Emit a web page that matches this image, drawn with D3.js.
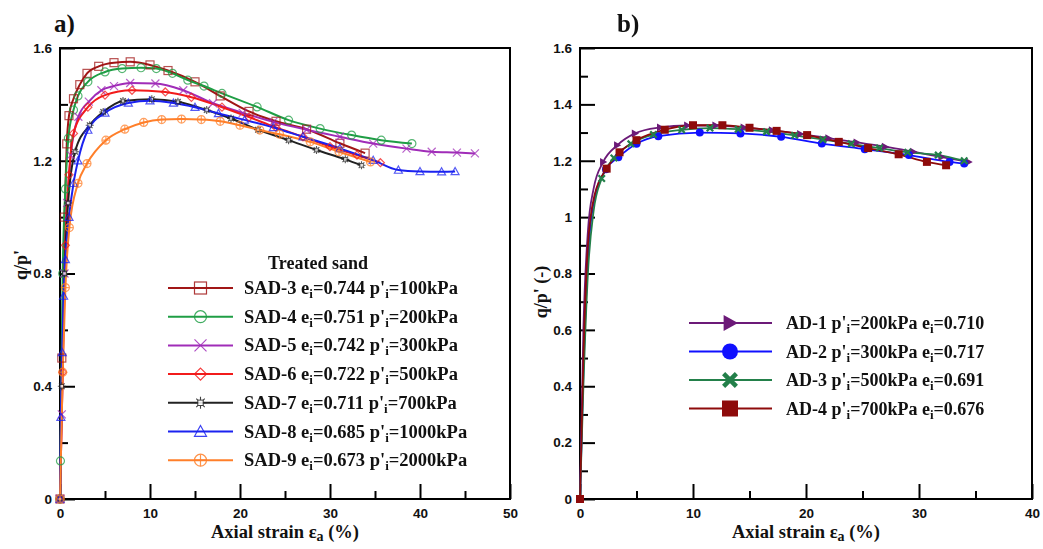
<!DOCTYPE html>
<html>
<head>
<meta charset="utf-8">
<script src="https://cdn.jsdelivr.net/npm/d3@7"></script>
<style>
  body { margin: 0; background: #fff; }
  svg { display: block; }
</style>
</head>
<body>
<svg id="chart" width="1043" height="549"></svg>
<script>
// --- Data : panel a) treated sand ---
const sadNames = ["SAD-3", "SAD-4", "SAD-5", "SAD-6", "SAD-7", "SAD-8", "SAD-9"];
const sadVoid = ["0.744", "0.751", "0.742", "0.722", "0.711", "0.685", "0.673"];
const sadPressure = ["100kPa", "200kPa", "300kPa", "500kPa", "700kPa", "1000kPa", "2000kPa"];

const sad3 = [[0,0],[0.2,0.5],[0.5,1.0],[0.75,1.26],[1,1.36],[1.5,1.42],[2.2,1.47],[3,1.51],[4.3,1.535],[6,1.548],[7.8,1.551],[10,1.54],[12,1.52],[15,1.48],[17.8,1.43],[21,1.375],[24,1.34],[27.4,1.312],[31.1,1.262],[33.9,1.227]];
const sad4 = [[0,0],[0.05,0.135],[0.3,0.8],[0.6,1.1],[0.93,1.28],[1.5,1.38],[2,1.43],[3.1,1.48],[5,1.515],[6.9,1.527],[9,1.53],[10.7,1.527],[12.5,1.51],[14.2,1.486],[16,1.465],[18,1.439],[21.9,1.391],[25.4,1.344],[28.9,1.314],[32.4,1.291],[35.7,1.273],[39.1,1.261]];
const sad5 = [[0,0],[0.2,0.3],[0.5,0.8],[0.8,1.05],[1.2,1.22],[2.04,1.356],[3.2,1.41],[4.6,1.45],[6,1.465],[7.8,1.476],[10.6,1.474],[13.7,1.45],[17,1.404],[20.3,1.37],[23.7,1.338],[27.4,1.31],[31.1,1.285],[34.8,1.261],[38.5,1.243],[41.3,1.232],[44.1,1.229],[46.1,1.226]];
const sad6 = [[0,0],[0.3,0.45],[0.6,0.9],[1,1.15],[1.5,1.297],[3.1,1.39],[5,1.433],[8,1.45],[11.7,1.444],[14.6,1.425],[18,1.39],[21,1.355],[24,1.318],[27,1.285],[30,1.25],[33,1.22],[35.6,1.193]];
const sad7 = [[0,0],[0.2,0.4],[0.5,0.8],[0.9,1.05],[1.67,1.232],[3.3,1.326],[4.8,1.373],[7,1.412],[10.2,1.418],[13.1,1.409],[16.3,1.38],[19,1.35],[22,1.31],[25.4,1.273],[28.5,1.238],[31.7,1.205],[33.5,1.184]];
const sad8 = [[0,0],[0.1,0.29],[0.25,0.52],[0.4,0.72],[0.6,0.85],[1,1.0],[1.5,1.12],[2,1.2],[3.1,1.309],[5,1.37],[7.6,1.405],[10,1.413],[12.6,1.405],[15,1.39],[17.6,1.368],[20.5,1.345],[23.7,1.318],[27,1.285],[31.1,1.244],[34.8,1.202],[37.6,1.167],[40,1.162],[42.4,1.161],[43.9,1.162]];
const sad9 = [[0,0],[0.3,0.45],[0.6,0.75],[1.04,0.963],[2,1.12],[3,1.19],[5.1,1.273],[7.2,1.312],[9.3,1.336],[11.3,1.346],[13.5,1.348],[15.7,1.346],[17.8,1.34],[20,1.326],[22.2,1.309],[24.4,1.294],[27.8,1.267],[31,1.232],[34.5,1.196]];

// --- Data : panel b) ---
const adNames = ["AD-1", "AD-2", "AD-3", "AD-4"];
const adPressure = ["200kPa", "300kPa", "500kPa", "700kPa"];
const adVoid = ["0.710", "0.717", "0.691", "0.676"];

const ad1 = [[0,0],[0.3,0.6],[0.7,0.95],[1.2,1.1],[2.06,1.196],[3.3,1.255],[4.87,1.297],[7.1,1.318],[9.5,1.325],[12,1.325],[14.5,1.318],[17,1.308],[19.5,1.295],[22,1.28],[24.5,1.265],[27,1.25],[29.5,1.232],[32,1.213],[34.4,1.196]];
const ad2 = [[0,0],[0.3,0.45],[0.7,0.85],[1.2,1.05],[2.3,1.17],[3.39,1.212],[5,1.26],[6.93,1.287],[10.6,1.3],[14.2,1.297],[17.8,1.285],[21.4,1.261],[25.2,1.241],[29.1,1.22],[32.7,1.196],[34,1.19]];
const ad3 = [[0,0],[0.3,0.4],[0.7,0.8],[1.2,1.02],[1.92,1.137],[3,1.21],[4.5,1.26],[6.5,1.293],[9,1.31],[11.5,1.316],[14,1.312],[16.5,1.303],[19,1.29],[21.5,1.275],[24,1.26],[26.5,1.245],[29,1.23],[31.7,1.22],[34,1.2]];
const ad4 = [[0,0],[0.3,0.5],[0.7,0.9],[1.3,1.08],[2.36,1.172],[3.5,1.23],[5,1.273],[7.5,1.31],[10,1.326],[12.6,1.326],[15,1.317],[17.4,1.306],[20.1,1.291],[22.9,1.267],[25.5,1.245],[28.2,1.223],[30.7,1.196],[32.4,1.184]];

// --- Tick values ---
const leftXTicks = [0, 10, 20, 30, 40, 50];
const leftXMinor = [5, 15, 25, 35, 45];
const leftYTicks = [0, 0.4, 0.8, 1.2, 1.6];
const leftYMinor = [0.2, 0.6, 1.0, 1.4];
const rightXTicks = [0, 10, 20, 30, 40];
const rightXMinor = [5, 15, 25, 35];
const rightYTicks = [0, 0.2, 0.4, 0.6, 0.8, 1.0, 1.2, 1.4, 1.6];
const rightYMinor = [0.1, 0.3, 0.5, 0.7, 0.9, 1.1, 1.3, 1.5];

// --- Styles ---
const sadColors = ["#a11616", "#1f9e45", "#a02cb8", "#f21b1b", "#222222", "#1b22f0", "#ff7f2a"];
const sadMarkers = ["square", "circle", "x", "diamond", "star", "triangle", "circleplus"];
const adColors = ["#6c1a78", "#1010ff", "#23804a", "#8e0b0b"];
const adMarkers = ["triRight", "dot", "xbold", "squareFill"];

const serif = "'Liberation Serif', 'Times New Roman', serif";
const sans = "'Liberation Sans', Arial, sans-serif";

const svg = d3.select("#chart");

// dessine un symbole centré en (x, y)
function marker(g, type, x, y, s, color) {
    const h = s / 2;
    const m = g.append("g").attr("transform", `translate(${x},${y})`);
    if (type === "square") {
        m.append("rect").attr("x", -h).attr("y", -h).attr("width", s).attr("height", s)
            .attr("fill", "none").attr("stroke", color).attr("stroke-width", 1.2);
    } else if (type === "circle") {
        m.append("circle").attr("r", h).attr("fill", "none").attr("stroke", color).attr("stroke-width", 1.2);
    } else if (type === "x") {
        m.append("path").attr("d", `M${-h},${-h}L${h},${h}M${-h},${h}L${h},${-h}`)
            .attr("stroke", color).attr("stroke-width", 1.2);
    } else if (type === "diamond") {
        m.append("path").attr("d", `M0,${-h}L${h},0L0,${h}L${-h},0Z`)
            .attr("fill", "none").attr("stroke", color).attr("stroke-width", 1.2);
    } else if (type === "star") {
        const arms = d3.range(8).map(i => {
            const a = i * Math.PI / 4;
            return `M0,0L${(h * Math.cos(a)).toFixed(2)},${(h * Math.sin(a)).toFixed(2)}`;
        }).join("");
        m.append("path").attr("d", arms).attr("stroke", color).attr("stroke-width", 1.1);
        m.append("rect").attr("x", -h * 0.45).attr("y", -h * 0.45).attr("width", h * 0.9).attr("height", h * 0.9)
            .attr("fill", "#fff").attr("stroke", color).attr("stroke-width", 1);
    } else if (type === "triangle") {
        m.append("path").attr("d", `M0,${-h}L${h},${h * 0.8}L${-h},${h * 0.8}Z`)
            .attr("fill", "none").attr("stroke", color).attr("stroke-width", 1.2);
    } else if (type === "circleplus") {
        m.append("circle").attr("r", h).attr("fill", "none").attr("stroke", color).attr("stroke-width", 1.2);
        m.append("path").attr("d", `M${-h},0L${h},0M0,${-h}L0,${h}`).attr("stroke", color).attr("stroke-width", 1.2);
    } else if (type === "triRight") {
        m.append("path").attr("d", `M${-h * 0.8},${-h}L${h},0L${-h * 0.8},${h}Z`).attr("fill", color);
    } else if (type === "dot") {
        m.append("circle").attr("r", h).attr("fill", color);
    } else if (type === "xbold") {
        m.append("path").attr("d", `M${-h * 0.8},${-h * 0.8}L${h * 0.8},${h * 0.8}M${-h * 0.8},${h * 0.8}L${h * 0.8},${-h * 0.8}`)
            .attr("stroke", color).attr("stroke-width", s * 0.28);
    } else if (type === "squareFill") {
        m.append("rect").attr("x", -h).attr("y", -h).attr("width", s).attr("height", s).attr("fill", color);
    }
}

// cadre, graduations et titres d'un panneau
function drawPanel(p) {
    const x = d3.scaleLinear().domain(p.xDomain).range([p.left, p.right]);
    const y = d3.scaleLinear().domain([0, 1.6]).range([p.bottom, p.top]);
    const g = svg.append("g");

    g.append("g").attr("transform", `translate(0,${p.bottom})`)
        .call(d3.axisBottom(x).tickValues(p.xTicks).tickSize(-15).tickPadding(9).tickFormat(d3.format("d")));
    g.append("g").attr("transform", `translate(0,${p.bottom})`)
        .call(d3.axisBottom(x).tickValues(p.xMinor).tickSize(-8).tickFormat(""));
    g.append("g").attr("transform", `translate(${p.left},0)`)
        .call(d3.axisLeft(y).tickValues(p.yTicks).tickSize(-15).tickPadding(8).tickFormat(p.yFormat));
    g.append("g").attr("transform", `translate(${p.left},0)`)
        .call(d3.axisLeft(y).tickValues(p.yMinor).tickSize(-8).tickFormat(""));

    g.selectAll(".domain").remove();
    g.selectAll(".tick line").attr("stroke", "#000").attr("stroke-width", 2);
    g.selectAll(".tick text").attr("font-family", sans).attr("font-weight", "bold")
        .attr("font-size", 13.5).attr("fill", "#111");

    g.append("rect").attr("x", p.left).attr("y", p.top)
        .attr("width", p.right - p.left).attr("height", p.bottom - p.top)
        .attr("fill", "none").attr("stroke", "#000").attr("stroke-width", 2);

    // titre axe x
    const xt = g.append("text").attr("x", (p.left + p.right) / 2).attr("y", 538)
        .attr("text-anchor", "middle").attr("font-family", serif).attr("font-weight", "bold")
        .attr("font-size", 18.5).attr("fill", "#111");
    xt.append("tspan").text("Axial strain ε");
    xt.append("tspan").attr("font-size", 14).attr("dy", 3).text("a");
    xt.append("tspan").attr("dy", -3).text(" (%)");

    // titre axe y
    svg.append("text").attr("transform", `translate(${p.yTitleX},${p.yTitleY}) rotate(-90)`)
        .attr("text-anchor", "middle").attr("font-family", serif).attr("font-weight", "bold")
        .attr("font-size", 18).attr("fill", "#111").text(p.yTitle);

    // lettre du panneau
    svg.append("text").attr("x", p.tagX).attr("y", 32).attr("font-family", serif)
        .attr("font-weight", "bold").attr("font-size", 25).attr("fill", "#111").text(p.tag);

    return {x, y, g};
}

const left = drawPanel({
    left: 60, right: 510, top: 48, bottom: 499, xDomain: [0, 50],
    xTicks: leftXTicks, xMinor: leftXMinor, yTicks: leftYTicks, yMinor: leftYMinor,
    yFormat: d3.format("~g"), yTitle: "q/p'", yTitleX: 27, yTitleY: 265, tag: "a)", tagX: 54
});
const right = drawPanel({
    left: 580, right: 1032, top: 48, bottom: 499, xDomain: [0, 40],
    xTicks: rightXTicks, xMinor: rightXMinor, yTicks: rightYTicks, yMinor: rightYMinor,
    yFormat: d3.format("~g"), yTitle: "q/p' (-)", yTitleX: 547, yTitleY: 292, tag: "b)", tagX: 617
});

// --- Courbes panneau a) ---
const sadSeries = [sad3, sad4, sad5, sad6, sad7, sad8, sad9];
const lineA = d3.line().x(d => left.x(d[0])).y(d => left.y(d[1])).curve(d3.curveMonotoneX);
const curvesA = left.g.append("g");
sadSeries.forEach((s, i) => {
    curvesA.append("path").datum(s).attr("d", lineA)
        .attr("fill", "none").attr("stroke", sadColors[i]).attr("stroke-width", 2);
});
sadSeries.forEach((s, i) => {
    const mg = curvesA.append("g").attr("opacity", 0.75);
    s.forEach(d => marker(mg, sadMarkers[i], left.x(d[0]), left.y(d[1]), 8, sadColors[i]));
});

// --- Courbes panneau b) ---
const adSeries = [ad1, ad2, ad3, ad4];
const lineB = d3.line().x(d => right.x(d[0])).y(d => right.y(d[1])).curve(d3.curveMonotoneX);
const curvesB = right.g.append("g");
adSeries.forEach((s, i) => {
    curvesB.append("path").datum(s).attr("d", lineB)
        .attr("fill", "none").attr("stroke", adColors[i]).attr("stroke-width", 1.8);
});
adSeries.forEach((s, i) => {
    s.filter(d => d[0] === 0 || d[0] >= 1.9)
        .forEach(d => marker(curvesB, adMarkers[i], right.x(d[0]), right.y(d[1]), 8, adColors[i]));
});

// --- Légendes ---
// texte avec indices : le décalage de retour est porté par le morceau suivant
function legendText(t, parts) {
    let back = 0;
    parts.forEach(pt => {
        if (pt.sub) {
            t.append("tspan").attr("font-size", 13).attr("dy", 4).text(pt.sub);
            back = -4;
        } else {
            t.append("tspan").attr("dy", back).text(pt.txt);
            back = 0;
        }
    });
}

const legA = svg.append("g");
legA.append("text").attr("x", 318).attr("y", 269).attr("text-anchor", "middle")
    .attr("font-family", serif).attr("font-weight", "bold").attr("font-size", 18)
    .attr("fill", "#111").text("Treated sand");
sadNames.forEach((name, i) => {
    const cy = 288 + i * 28.7;
    legA.append("line").attr("x1", 168).attr("x2", 233).attr("y1", cy).attr("y2", cy)
        .attr("stroke", sadColors[i]).attr("stroke-width", 2);
    const mg = legA.append("g").attr("opacity", 0.85);
    marker(mg, sadMarkers[i], 200.5, cy, 12, sadColors[i]);
    const t = legA.append("text").attr("x", 244).attr("y", cy + 6)
        .attr("font-family", serif).attr("font-weight", "bold").attr("font-size", 18.5).attr("fill", "#111");
    legendText(t, [{txt: `${name} e`}, {sub: "i"}, {txt: `=${sadVoid[i]} p'`}, {sub: "i"}, {txt: `=${sadPressure[i]}`}]);
});

const legB = svg.append("g");
adNames.forEach((name, i) => {
    const cy = 323 + i * 28.5;
    legB.append("line").attr("x1", 689).attr("x2", 772).attr("y1", cy).attr("y2", cy)
        .attr("stroke", adColors[i]).attr("stroke-width", 2);
    marker(legB, adMarkers[i], 730, cy, 16, adColors[i]);
    const t = legB.append("text").attr("x", 786).attr("y", cy + 6)
        .attr("font-family", serif).attr("font-weight", "bold").attr("font-size", 18).attr("fill", "#111");
    legendText(t, [{txt: `${name} p'`}, {sub: "i"}, {txt: `=${adPressure[i]} e`}, {sub: "i"}, {txt: `=${adVoid[i]}`}]);
});
</script>
</body>
</html>
